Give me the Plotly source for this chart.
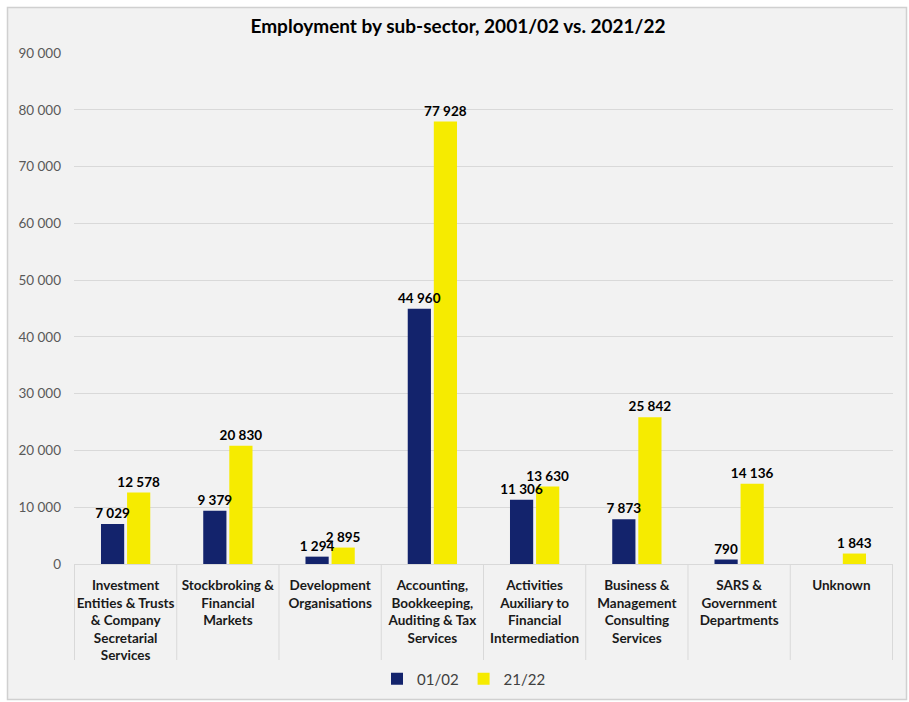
import plotly.graph_objects as go

categories = [
    "Investment<br>Entities & Trusts<br>& Company<br>Secretarial<br>Services",
    "Stockbroking &<br>Financial<br>Markets",
    "Development<br>Organisations",
    "Accounting,<br>Bookkeeping,<br>Auditing & Tax<br>Services",
    "Activities<br>Auxiliary to<br>Financial<br>Intermediation",
    "Business &<br>Management<br>Consulting<br>Services",
    "SARS &<br>Government<br>Departments",
    "Unknown",
]
values_0102 = [7029, 9379, 1294, 44960, 11306, 7873, 790, None]
values_2122 = [12578, 20830, 2895, 77928, 13630, 25842, 14136, 1843]
y_ticks = [0, 10000, 20000, 30000, 40000, 50000, 60000, 70000, 80000, 90000]

FONT = "Lato, 'Open Sans', sans-serif"
NAVY = "#13236C"
YELLOW = "#F6EB00"
LABEL_FONT = dict(family=FONT, size=13.5, color="#000000")

fig = go.Figure()
# bars
fig.add_trace(go.Bar(x=categories, y=values_0102, name="01/02", offsetgroup="a",
                     marker=dict(color=NAVY, line=dict(width=0)), hoverinfo="skip"))
fig.add_trace(go.Bar(x=categories, y=values_2122, name="21/22", offsetgroup="b",
                     marker=dict(color=YELLOW, line=dict(width=0)), hoverinfo="skip"))
# value labels drawn on top of all bars (same positions via offsetgroup)
for vals, grp in ((values_0102, "a"), (values_2122, "b")):
    fig.add_trace(go.Bar(x=categories, y=vals, offsetgroup=grp, showlegend=False,
                         marker=dict(color="rgba(0,0,0,0)", line=dict(width=0)),
                         texttemplate="<b>%{y:,}</b>", textposition="outside",
                         textfont=LABEL_FONT, constraintext="none", cliponaxis=False,
                         hoverinfo="skip"))

W, H = 909, 702
L, R, T, B = 74, 16, 53, 138
pw, ph = W - L - R, H - T - B

def px_x(p):
    return (p - L) / pw

def px_y(p):
    return (H - B - p) / ph

shapes = [
    dict(type="rect", xref="paper", yref="paper",
         x0=px_x(7.5), x1=px_x(906.5), y0=px_y(699.5), y1=px_y(7.5),
         line=dict(color="#d0d0d0", width=1.5), fillcolor="#f2f2f2", layer="below"),
]
for i in range(len(categories) + 1):
    shapes.append(dict(type="line", xref="x", yref="paper",
                       x0=i - 0.5, x1=i - 0.5, y0=0, y1=px_y(660),
                       line=dict(color="#d9d9d9", width=1)))

fig.update_layout(
    width=W, height=H,
    margin=dict(l=L, r=R, t=T, b=B, pad=0, autoexpand=False),
    paper_bgcolor="white", plot_bgcolor="rgba(0,0,0,0)",
    separators=". ",
    barmode="group", bargap=0.49, bargroupgap=0.11,
    title=dict(text="<b>Employment by sub-sector, 2001/02 vs. 2021/22</b>",
               x=px_x(458), xref="paper", xanchor="center",
               y=1 - 26 / H, yanchor="middle",
               font=dict(family=FONT, size=19, color="#000000")),
    font=dict(family=FONT, color="#404040"),
    xaxis=dict(showgrid=False, showline=True, linecolor="#d9d9d9", linewidth=1,
               ticks="", tickfont=dict(family=FONT, size=13.5, color="#1a1a1a", weight="bold"),
               tickangle=0, ticklabelstandoff=9, automargin=False),
    yaxis=dict(range=[0, 90000], tickvals=y_ticks, tickformat=",d",
               showgrid=True, gridcolor="#d9d9d9", gridwidth=1,
               zeroline=False, showline=False, ticks="",
               tickfont=dict(family=FONT, size=13.5, color="#595959"),
               ticklabelstandoff=12, automargin=False),
    legend=dict(orientation="h", x=px_x(464), xanchor="center", y=px_y(679), yanchor="middle",
                font=dict(family=FONT, size=15, color="#404040"),
                bgcolor="rgba(0,0,0,0)", itemwidth=30, traceorder="normal"),
    shapes=shapes,
)
fig.write_html("out.html", config={"displayModeBar": False},
               post_script="document.body.style.margin='0';document.body.style.overflow='hidden';")
